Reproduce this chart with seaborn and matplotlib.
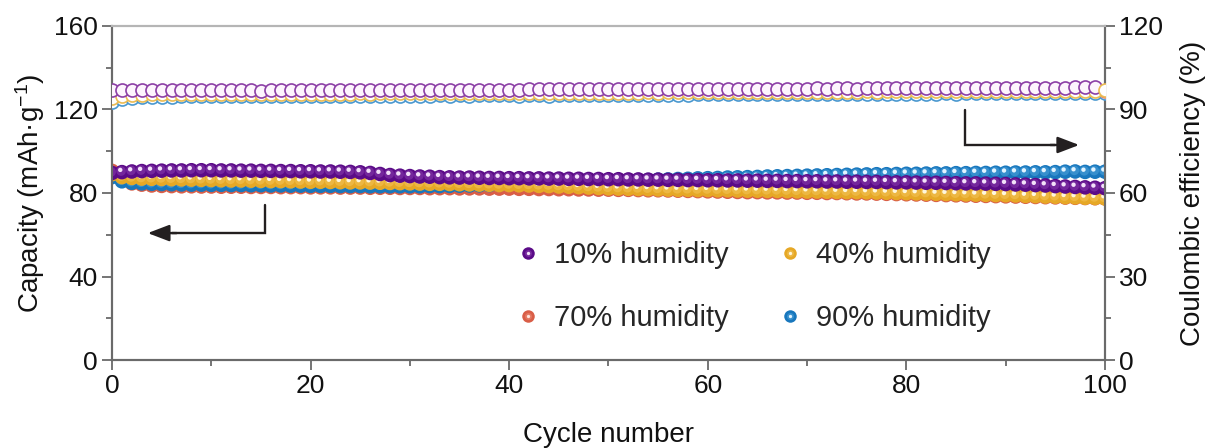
import matplotlib
matplotlib.use("Agg")
import matplotlib.pyplot as plt
import matplotlib.transforms as mtransforms
from matplotlib.lines import Line2D
from matplotlib.legend_handler import HandlerTuple
from matplotlib.ticker import MultipleLocator
import seaborn as sns

sns.set_theme(style="white")
plt.rcParams["font.family"] = ["Liberation Sans", "DejaVu Sans"]
plt.rcParams["mathtext.default"] = "regular"

# ---------------- data ----------------
cycles = list(range(101))

cap_10 = [89.6, 90.0, 90.3, 90.5, 90.6, 90.7, 90.8, 90.8, 90.9, 90.9,
          90.9, 90.8, 90.8, 90.7, 90.7, 90.6, 90.6, 90.5, 90.5, 90.4,
          90.4, 90.3, 90.3, 90.2, 90.1, 89.9, 89.6, 89.1, 88.6, 88.3,
          88.1, 87.9, 87.8, 87.6, 87.5, 87.4, 87.4, 87.3, 87.2, 87.2,
          87.1, 87.1, 87.0, 87.0, 86.9, 86.9, 86.8, 86.8, 86.7, 86.7,
          86.6, 86.6, 86.5, 86.5, 86.4, 86.4, 86.3, 86.3, 86.2, 86.2,
          86.1, 86.1, 86.0, 86.0, 85.9, 85.9, 85.8, 85.8, 85.7, 85.7,
          85.6, 85.6, 85.5, 85.5, 85.4, 85.4, 85.3, 85.3, 85.2, 85.1,
          85.1, 85.0, 84.9, 84.9, 84.8, 84.7, 84.6, 84.6, 84.5, 84.4,
          84.3, 84.1, 84.0, 83.8, 83.6, 83.3, 83.1, 82.9, 82.7, 82.5,
          82.3]

cap_40 = [89.0, 87.6, 87.2, 86.9, 86.8, 86.7, 86.6, 86.5, 86.4, 86.3,
          86.2, 86.1, 86.0, 86.0, 85.9, 85.8, 85.7, 85.7, 85.6, 85.5,
          85.4, 85.4, 85.3, 85.2, 85.1, 85.1, 85.0, 84.9, 84.8, 84.7,
          84.6, 84.5, 84.4, 84.4, 84.3, 84.2, 84.1, 84.0, 83.9, 83.8,
          83.8, 83.7, 83.6, 83.4, 83.3, 83.1, 83.0, 82.8, 82.6, 82.4,
          82.2, 82.1, 82.0, 81.9, 81.8, 81.7, 81.6, 81.5, 81.5, 81.4,
          81.4, 81.3, 81.3, 81.2, 81.1, 81.1, 81.0, 81.0, 80.9, 80.8,
          80.7, 80.7, 80.6, 80.5, 80.4, 80.4, 80.3, 80.2, 80.1, 80.0,
          79.9, 79.8, 79.7, 79.6, 79.5, 79.4, 79.3, 79.2, 79.1, 79.0,
          78.9, 78.8, 78.6, 78.5, 78.3, 78.2, 78.0, 77.9, 77.7, 77.6,
          77.4]

cap_70 = [90.6, 86.0, 84.6, 84.0, 83.6, 83.4, 83.3, 83.2, 83.2, 83.1,
          83.1, 83.0, 83.0, 83.0, 82.9, 82.9, 82.9, 82.8, 82.8, 82.8,
          82.7, 82.7, 82.7, 82.6, 82.6, 82.6, 82.5, 82.5, 82.5, 82.4,
          82.4, 82.4, 82.3, 82.3, 82.3, 82.2, 82.2, 82.2, 82.1, 82.1,
          82.1, 82.0, 82.0, 81.9, 81.9, 81.8, 81.8, 81.7, 81.7, 81.6,
          81.6, 81.5, 81.5, 81.4, 81.3, 81.3, 81.2, 81.1, 81.0, 80.9,
          80.8, 80.7, 80.6, 80.5, 80.4, 80.4, 80.3, 80.3, 80.2, 80.2,
          80.1, 80.1, 80.0, 80.0, 79.9, 79.8, 79.8, 79.7, 79.6, 79.5,
          79.4, 79.3, 79.2, 79.1, 79.0, 78.9, 78.8, 78.7, 78.6, 78.5,
          78.4, 78.3, 78.2, 78.1, 78.0, 77.9, 77.8, 77.7, 77.6, 77.5,
          77.4]

cap_90 = [87.6, 85.6, 84.9, 84.6, 84.4, 84.3, 84.2, 84.1, 84.0, 84.0,
          83.9, 83.9, 83.8, 83.8, 83.7, 83.7, 83.6, 83.6, 83.5, 83.5,
          83.4, 83.4, 83.4, 83.3, 83.3, 83.3, 83.2, 83.2, 83.2, 83.2,
          83.2, 83.2, 83.3, 83.3, 83.4, 83.5, 83.6, 83.7, 83.8, 84.0,
          84.1, 84.3, 84.4, 84.6, 84.7, 84.9, 85.0, 85.2, 85.3, 85.5,
          85.6, 85.8, 85.9, 86.1, 86.2, 86.4, 86.5, 86.7, 86.8, 87.0,
          87.1, 87.2, 87.4, 87.5, 87.6, 87.7, 87.9, 88.0, 88.1, 88.2,
          88.3, 88.4, 88.5, 88.6, 88.7, 88.8, 88.9, 89.0, 89.0, 89.1,
          89.2, 89.2, 89.3, 89.4, 89.4, 89.5, 89.5, 89.6, 89.6, 89.7,
          89.7, 89.8, 89.8, 89.9, 89.9, 90.0, 90.2, 90.3, 90.1, 90.2,
          90.2]

ce_10 = [97.0, 96.9, 96.9, 96.9, 96.9, 96.9, 96.9, 96.9, 97.0, 96.9,
         96.9, 96.9, 96.9, 96.9, 96.9, 96.8, 96.9, 96.9, 96.9, 96.9,
         96.9, 96.9, 96.9, 96.9, 96.9, 96.9, 97.0, 96.9, 97.0, 97.0,
         97.0, 97.0, 97.0, 97.1, 97.0, 97.0, 97.0, 97.1, 97.0, 97.1,
         97.1, 97.1, 97.2, 97.2, 97.3, 97.2, 97.2, 97.3, 97.3, 97.2,
         97.3, 97.3, 97.4, 97.3, 97.4, 97.3, 97.4, 97.4, 97.3, 97.4,
         97.4, 97.4, 97.4, 97.5, 97.4, 97.5, 97.5, 97.4, 97.5, 97.5,
         97.5, 97.6, 97.5, 97.6, 97.6, 97.5, 97.6, 97.6, 97.6, 97.6,
         97.6, 97.7, 97.6, 97.7, 97.7, 97.6, 97.7, 97.7, 97.7, 97.8,
         97.7, 97.8, 97.8, 97.8, 97.8, 97.9, 97.9, 98.0, 98.0, 98.1]

ce_40 = [94.0, 94.8, 95.2, 95.3, 95.4, 95.4, 95.5, 95.4, 95.5, 95.5,
         95.5, 95.5, 95.6, 95.5, 95.6, 95.6, 95.6, 95.6, 95.7, 95.6,
         95.7, 95.7, 95.7, 95.7, 95.7, 95.8, 95.7, 95.8, 95.8, 95.8,
         95.8, 95.8, 95.9, 95.8, 95.9, 95.9, 95.9, 95.9, 95.9, 96.0,
         95.9, 96.0, 96.0, 96.0, 96.0, 96.0, 96.1, 96.0, 96.1, 96.1,
         96.1, 96.1, 96.1, 96.1, 96.2, 96.1, 96.2, 96.2, 96.2, 96.2,
         96.2, 96.2, 96.3, 96.2, 96.3, 96.3, 96.3, 96.3, 96.3, 96.4,
         96.3, 96.4, 96.4, 96.4, 96.4, 96.4, 96.5, 96.4, 96.5, 96.5,
         96.5, 96.5, 96.5, 96.5, 96.6, 96.5, 96.6, 96.6, 96.6, 96.6,
         96.6, 96.7, 96.6, 96.7, 96.7, 96.7, 96.7, 96.8, 96.7, 96.8,
         97.0]

ce_70 = [94.6, 95.5, 95.8, 95.9, 96.0, 96.0, 96.0, 96.1, 96.0, 96.1,
         96.1, 96.1, 96.1, 96.1, 96.2, 96.1, 96.2, 96.2, 96.2, 96.2,
         96.2, 96.2, 96.3, 96.2, 96.3, 96.3, 96.3, 96.3, 96.3, 96.3,
         96.3, 96.4, 96.3, 96.4, 96.4, 96.4, 96.4, 96.4, 96.4, 96.5,
         96.4, 96.5, 96.5, 96.5, 96.5, 96.5, 96.5, 96.6, 96.5, 96.6,
         96.6, 96.6, 96.6, 96.6, 96.6, 96.7, 96.6, 96.7, 96.7, 96.7,
         96.7, 96.7, 96.7, 96.7, 96.8, 96.7, 96.8, 96.8, 96.8, 96.8,
         96.8, 96.8, 96.8, 96.9, 96.8, 96.9, 96.9, 96.9, 96.9, 96.9,
         96.9, 96.9, 97.0, 96.9, 97.0, 97.0, 97.0, 97.0, 97.0, 97.0,
         97.0, 97.1, 97.0, 97.1, 97.1, 97.1, 97.1, 97.1, 97.1, 97.2,
         96.8]

ce_90 = [92.8, 93.8, 94.2, 94.4, 94.5, 94.6, 94.6, 94.7, 94.7, 94.7,
         94.7, 94.8, 94.7, 94.8, 94.8, 94.8, 94.8, 94.9, 94.8, 94.9,
         94.9, 94.9, 94.9, 94.9, 95.0, 94.9, 95.0, 95.0, 94.9, 95.0,
         95.0, 95.0, 95.0, 95.1, 95.0, 95.1, 95.0, 95.1, 95.1, 95.1,
         95.1, 95.0, 95.1, 95.1, 94.9, 95.1, 95.2, 95.1, 95.2, 95.2,
         95.2, 95.2, 95.3, 95.2, 95.3, 95.3, 95.3, 95.3, 95.3, 95.4,
         95.4, 95.4, 95.4, 95.5, 95.4, 95.5, 95.5, 95.5, 95.5, 95.5,
         95.6, 95.5, 95.6, 95.6, 95.6, 95.6, 95.6, 95.7, 95.6, 95.7,
         95.7, 95.7, 95.7, 95.7, 95.8, 95.7, 95.8, 95.8, 95.8, 95.8,
         95.8, 95.9, 95.9, 95.8, 95.9, 95.9, 95.9, 96.0, 95.9, 96.0,
         96.0]

labels = {"10": "10% humidity", "40": "40% humidity",
          "70": "70% humidity", "90": "90% humidity"}

# ---------------- styling ----------------
base_col = {"10": "#5b0b88", "40": "#e6a826", "70": "#d95e47", "90": "#1877bd"}
mid_col = {"10": "#8a3fae", "40": "#f3c45a", "70": "#ec8a74", "90": "#4fa3dc"}
hi_col = {"10": "#f3e2f9", "40": "#fff7dc", "70": "#ffe4dc", "90": "#e2f4ff"}
ring_col = {"10": "#8c3fa6", "40": "#ebbb52", "70": "#e28573", "90": "#4a98cf"}
ring_fill = {"10": "#fdf5fd", "40": "white", "70": "white", "90": "white"}

fig = plt.figure(figsize=(12.12, 4.48), dpi=100)
ax = fig.add_axes([0.0924, 0.1964, 0.8193, 0.7456])
ax2 = ax.twinx()

spine_c = "#6a6a6a"
text_c = "#111111"
hi_shift = mtransforms.ScaledTranslation(-1.2 / 72, 1.6 / 72, fig.dpi_scale_trans)
mid_shift = mtransforms.ScaledTranslation(-0.6 / 72, 0.8 / 72, fig.dpi_scale_trans)


def sphere_series(axis, xs, ys, key, z):
    """Shaded ball markers: dark body, lighter core, bright glint."""
    sns.scatterplot(x=xs, y=ys, ax=axis, color=base_col[key], s=110,
                    edgecolor="none", linewidth=0, zorder=z, legend=False)
    axis.scatter(xs, ys, s=48, color=mid_col[key], edgecolors="none",
                 alpha=0.55, zorder=z + 0.01,
                 transform=axis.transData + mid_shift)
    axis.scatter(xs, ys, s=10, color=hi_col[key], edgecolors="none",
                 zorder=z + 0.02, transform=axis.transData + hi_shift)


# capacity (left axis)
sphere_series(ax, cycles, cap_70, "70", 3)
sphere_series(ax, cycles, cap_90, "90", 4)
sphere_series(ax, cycles, cap_40, "40", 5)
sphere_series(ax, cycles, cap_10, "10", 6)

# coulombic efficiency (right axis), open rings
ring_kw = dict(s=88, linewidth=1.2, legend=False)
for key, ce, z in [("90", ce_90, 3), ("70", ce_70, 4), ("40", ce_40, 4.5), ("10", ce_10, 5)]:
    xs = cycles[:len(ce)]
    if key == "40":
        # earlier cycles sit beneath the 10% rings, the last one on top
        sns.scatterplot(x=xs[:-1], y=ce[:-1], ax=ax2, color=ring_fill[key],
                        edgecolor=ring_col[key], zorder=z, **ring_kw)
        sns.scatterplot(x=xs[-1:], y=ce[-1:], ax=ax2, color=ring_fill[key],
                        edgecolor=ring_col[key], zorder=6, **ring_kw)
    else:
        sns.scatterplot(x=xs, y=ce, ax=ax2, color=ring_fill[key],
                        edgecolor=ring_col[key], zorder=z, **ring_kw)

# axes ranges and ticks
ax.set_xlim(0, 100)
ax.set_ylim(0, 160)
ax2.set_ylim(0, 120)
ax.xaxis.set_major_locator(MultipleLocator(20))
ax.xaxis.set_minor_locator(MultipleLocator(10))
ax.yaxis.set_major_locator(MultipleLocator(40))
ax.yaxis.set_minor_locator(MultipleLocator(20))
ax2.yaxis.set_major_locator(MultipleLocator(30))
ax2.yaxis.set_minor_locator(MultipleLocator(15))

for a in (ax, ax2):
    a.tick_params(which="major", direction="out", length=7, width=1.3,
                  color=spine_c, labelsize=19, labelcolor=text_c, pad=3)
    a.tick_params(which="minor", direction="out", length=4.5, width=1.3,
                  color=spine_c)
    for s in a.spines.values():
        s.set_color(spine_c)
        s.set_linewidth(1.5)
    a.spines["top"].set_color("#b5b5b5")
    a.grid(False)

ax.tick_params(axis="y", which="both", left=True, right=False)
ax.tick_params(axis="x", which="both", bottom=True, top=False)
ax2.tick_params(axis="y", which="both", right=True, left=False)

ax.set_xlabel("Cycle number", fontsize=20, color=text_c, labelpad=17)
ax.set_ylabel("Capacity (mAh·g$^{-1}$)", fontsize=20, color=text_c, labelpad=5)
ax2.set_ylabel("Coulombic efficiency (%)", fontsize=20, color=text_c, labelpad=12)

# guide arrows pointing at the relevant axis
arrow_c = "#231f20"
head = "-|>,head_length=1.1,head_width=0.42"
ax.plot([15.4, 15.4, 6.0], [74.3, 60.8, 60.8], color=arrow_c, lw=1.7,
        solid_joinstyle="miter", zorder=7)
ax.annotate("", xy=(3.6, 60.8), xytext=(6.5, 60.8),
            arrowprops=dict(arrowstyle=head, color=arrow_c, lw=1.7,
                            shrinkA=0, shrinkB=0), zorder=7)
ax.plot([85.9, 85.9, 95.0], [119.8, 103.0, 103.0], color=arrow_c, lw=1.7,
        solid_joinstyle="miter", zorder=7)
ax.annotate("", xy=(97.4, 103.0), xytext=(94.5, 103.0),
            arrowprops=dict(arrowstyle=head, color=arrow_c, lw=1.7,
                            shrinkA=0, shrinkB=0), zorder=7)

# legend with shaded-ball handles, laid out row by row (10|40 over 70|90)
order = ["10", "70", "40", "90"]
handles = []
for key in order:
    body = Line2D([], [], ls="none", marker="o", markersize=9,
                  markerfacecolor=base_col[key], markeredgecolor="none")
    core = Line2D([], [], ls="none", marker="o", markersize=5,
                  markerfacecolor=mid_col[key], markeredgecolor="none", alpha=0.6)
    glint = Line2D([], [], ls="none", marker="o", markersize=2.4,
                   markerfacecolor=hi_col[key], markeredgecolor="none")
    handles.append((body, core, glint))

ax2.legend(handles, [labels[k] for k in order],
           handler_map={tuple: HandlerTuple(ndivide=1, pad=0)},
           loc="upper left", bbox_to_anchor=(0.408, 0.356), ncol=2,
           frameon=False, fontsize=21, handlelength=0.75, handletextpad=0.5,
           columnspacing=1.75, labelspacing=1.2, borderpad=0, borderaxespad=0)

fig.savefig("out.png", dpi=100)
